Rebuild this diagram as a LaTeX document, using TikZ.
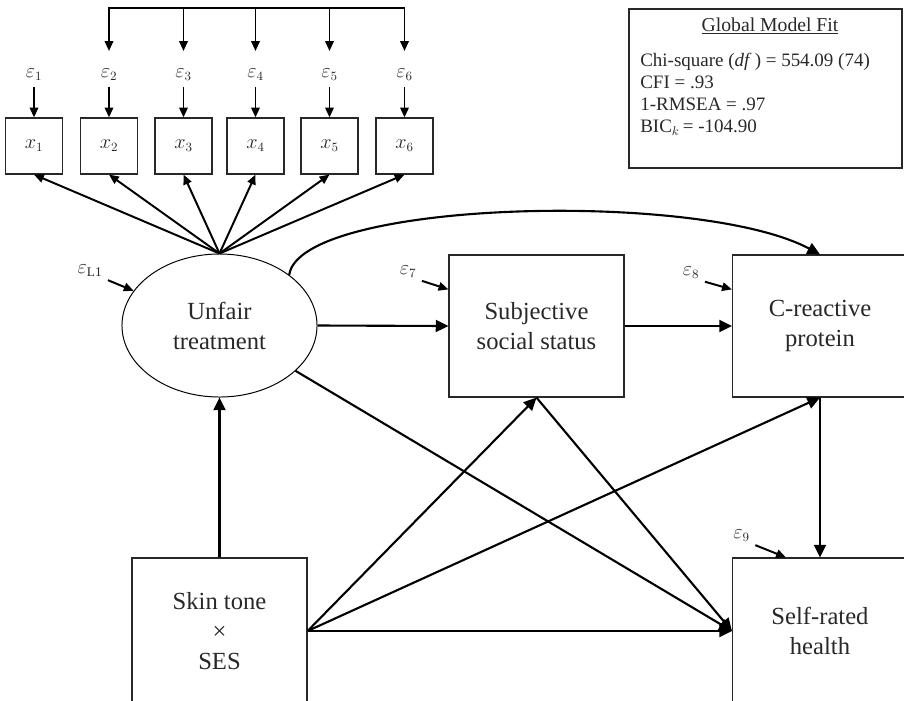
\documentclass[tikz,border=0pt]{standalone}
\usepackage{fontspec}
\setmainfont{Liberation Serif}
\usepackage{xcolor}
\usepackage{tikz}
\definecolor{inkgray}{RGB}{40,40,40}
\usetikzlibrary{arrows.meta, positioning, shapes.geometric}

\begin{document}
\begin{tikzpicture}[
  x=0.025cm, y=-0.025cm,
  obs/.style={draw=inkgray, line width=0.8pt, minimum width=4.375cm, minimum height=3.55cm, align=center, text=inkgray, font=\fontsize{17.5}{21.3}\selectfont},
  lat/.style={ellipse, draw=black, line width=0.7pt, minimum width=4.875cm, minimum height=3.575cm, inner sep=0pt, align=center, text=inkgray, font=\fontsize{17.5}{21.3}\selectfont},
  ind/.style={draw=inkgray, line width=0.8pt, minimum width=1.425cm, minimum height=1.4cm, inner sep=0pt, text=inkgray, font=\fontsize{13.5}{15}\selectfont},
  errlab/.style={inner sep=1pt, text=inkgray, font=\fontsize{13.5}{15}\selectfont},
  effect/.style={-{Triangle[length=9pt, width=8.5pt]}, line width=1.5pt},
  erra/.style={-{Triangle[length=7pt, width=6pt]}, line width=1.4pt}
]

  \useasboundingbox (0,0) rectangle (904,700);

  % Define X coordinates for the indicator columns
  \def\aX{34}
  \def\bX{109}
  \def\cX{183.5}
  \def\dX{255.5}
  \def\eX{329.5}
  \def\fX{404.5}

  % Indicator boxes
  \node[ind] (xa) at (\aX, 146) {$x_1$};
  \node[ind] (xb) at (\bX, 146) {$x_2$};
  \node[ind] (xc) at (\cX, 146) {$x_3$};
  \node[ind] (xd) at (\dX, 146) {$x_4$};
  \node[ind] (xe) at (\eX, 146) {$x_5$};
  \node[ind] (xf) at (\fX, 146) {$x_6$};

  % Error terms of the indicators
  \node[errlab] (ea) at (\aX, 75) {$\varepsilon_1$};
  \node[errlab] (eb) at (\bX, 75) {$\varepsilon_2$};
  \node[errlab] (ec) at (\cX, 75) {$\varepsilon_3$};
  \node[errlab] (ed) at (\dX, 75) {$\varepsilon_4$};
  \node[errlab] (ee) at (\eX, 75) {$\varepsilon_5$};
  \node[errlab] (ef) at (\fX, 75) {$\varepsilon_6$};

  \draw[erra] ([yshift=-0.3cm]ea.center) -- (xa.north);
  \draw[erra] ([yshift=-0.3cm]eb.center) -- (xb.north);
  \draw[erra] ([yshift=-0.3cm]ec.center) -- (xc.north);
  \draw[erra] ([yshift=-0.3cm]ed.center) -- (xd.north);
  \draw[erra] ([yshift=-0.3cm]ee.center) -- (xe.north);
  \draw[erra] ([yshift=-0.3cm]ef.center) -- (xf.north);

  % Correlated errors bracket
  \coordinate (cov) at (\bX, 8);
  \draw[line width=1.4pt, line cap=rect] (eb |- cov) -- (ef |- cov);
  \draw[erra] (eb |- cov) -- ([yshift=0.6cm]eb.center);
  \draw[erra] (ec |- cov) -- ([yshift=0.6cm]ec.center);
  \draw[erra] (ed |- cov) -- ([yshift=0.6cm]ed.center);
  \draw[erra] (ee |- cov) -- ([yshift=0.6cm]ee.center);
  \draw[erra] (ef |- cov) -- ([yshift=0.6cm]ef.center);

  % Structural variables
  \node[lat] (ut)   at (219.5, 325.5) {Unfair\\treatment};
  \node[obs] (sss)  at (536.5, 326) {Subjective\\social status};
  \node[obs] (crp)  at (820, 326) {C-reactive\\protein};
  \node[obs, minimum height=3.65cm] (srh)  at (820, 631) {Self-rated\\health};
  \node[obs, minimum height=3.65cm] (skin) at (219.5, 631) {Skin tone\\×\\SES};

  % Factor loadings
  \draw[erra] (ut.north) -- (xa.south);
  \draw[erra] (ut.north) -- (xb.south);
  \draw[erra] (ut.north) -- (xc.south);
  \draw[erra] (ut.north) -- (xd.south);
  \draw[erra] (ut.north) -- (xe.south);
  \draw[erra] (ut.north) -- (xf.south);

  % Disturbances
  \node[errlab] (eL) at (90, 271) {$\varepsilon_{\mathrm{L1}}$};
  \node[errlab] (eg) at (408, 272) {$\varepsilon_7$};
  \node[errlab] (eh) at (691, 273) {$\varepsilon_8$};
  \node[errlab] (ei) at (741.5, 536) {$\varepsilon_9$};

  \draw[erra, shorten <=3pt] (eL.south east) -- (ut.158);
  \draw[erra, shorten <=3pt] (eg.south east) -- ([yshift=-0.875cm]sss.north west);
  \draw[erra, shorten <=3pt] (eh.south east) -- ([yshift=-0.875cm]crp.north west);
  \draw[erra, shorten <=3pt] (ei.south east) -- ([xshift=1.35cm]srh.north west);

  % Paths
  \draw[effect] (ut.east) -- (sss.west);
  \draw[effect] (sss.east) -- (crp.west);
  \draw[effect] (ut.36) .. controls (300,200) and (700,190) .. (crp.north);
  \draw[effect] (ut) -- (srh.west);
  \draw[effect] (skin.north) -- (ut.south);
  \draw[effect] (skin.east) -- (sss.south);
  \draw[effect] (skin.east) -- (crp.south);
  \draw[effect] (skin.east) -- (srh.west);
  \draw[effect] (sss.south) -- (srh.west);
  \draw[effect] (crp.south) -- (srh.north);

  % Model fit box
  \node[draw=inkgray, line width=0.8pt, minimum width=6.825cm, minimum height=3.975cm] (fitbox) at (765.5, 88.5) {};
  \node[text=inkgray, font=\fontsize{14}{15.6}\selectfont] (fittitle) at (770, 26) {\underline{Global Model Fit}};
  \node[anchor=north west, inner sep=0pt, align=left, text=inkgray, font=\fontsize{13.5}{15.6}\selectfont] (fitbody) at (640, 53) {Chi-square (\textit{df}\,) = 554.09 (74)\\
    CFI = .93\\
    1-RMSEA = .97\\
    BIC$_k$\,= -104.90};

\end{tikzpicture}
\end{document}
